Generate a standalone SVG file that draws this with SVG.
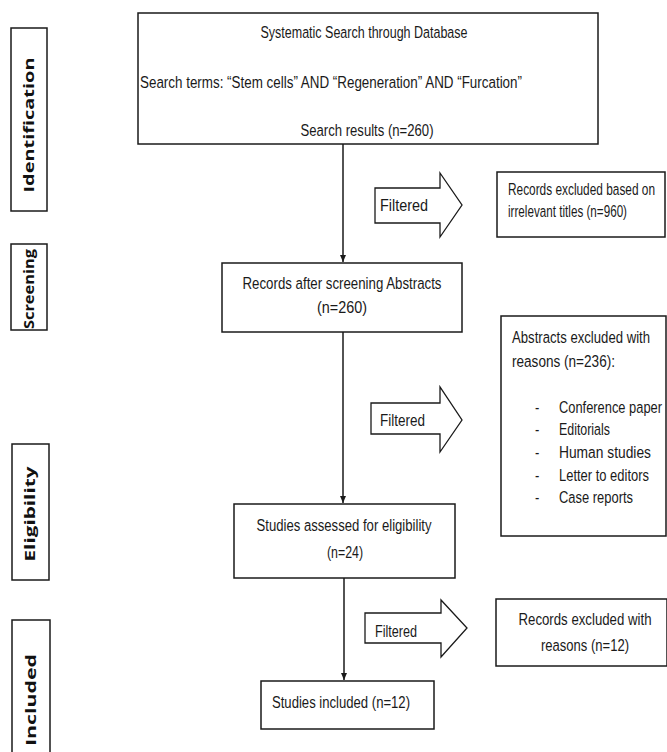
<svg xmlns="http://www.w3.org/2000/svg" width="667" height="752" viewBox="0 0 667 752">
<style>
.box{fill:#fff;stroke:#1a1a1a;stroke-width:1.5}
.phase{fill:#fff;stroke:#1a1a1a;stroke-width:1.5}
.ph{font-family:"Open Sans","DejaVu Sans",sans-serif;font-weight:700;font-size:15px;fill:#111;text-anchor:middle}
.t{font-family:"Liberation Sans",Arial,sans-serif;font-size:17px;fill:#1a1a1a}
.c{text-anchor:middle}
.conn{stroke:#1a1a1a;stroke-width:1.5;fill:none}
.farrow{fill:#fff;stroke:#1a1a1a;stroke-width:1.3;stroke-linejoin:miter}
</style>
<defs>
<marker id="ah" markerWidth="8" markerHeight="8" refX="7" refY="4" orient="auto" markerUnits="userSpaceOnUse">
<path d="M0,1 L7,4 L0,7 Z" fill="#1a1a1a"/>
</marker>
</defs>
<rect width="667" height="752" fill="#fff"/>

<g id="phase-identification">
<rect class="phase" x="11" y="28" width="36" height="183"/>
<text class="ph" transform="translate(34,125) rotate(-90)" textLength="135" lengthAdjust="spacingAndGlyphs">Identification</text>
</g>
<g id="phase-screening">
<rect class="phase" x="11" y="244" width="36" height="86"/>
<text class="ph" transform="translate(34,289) rotate(-90)" textLength="80" lengthAdjust="spacingAndGlyphs">Screening</text>
</g>
<g id="phase-eligibility">
<rect class="phase" x="12" y="444" width="37" height="136"/>
<text class="ph" transform="translate(35,514) rotate(-90)" textLength="95" lengthAdjust="spacingAndGlyphs">Eligibility</text>
</g>
<g id="phase-included">
<rect class="phase" x="12" y="620" width="38" height="140"/>
<text class="ph" transform="translate(36,700) rotate(-90)" textLength="92" lengthAdjust="spacingAndGlyphs">Included</text>
</g>

<g id="connectors">
<line class="conn" x1="343" y1="144" x2="343" y2="262" marker-end="url(#ah)"/>
<line class="conn" x1="343" y1="332" x2="343" y2="503" marker-end="url(#ah)"/>
<line class="conn" x1="344" y1="578" x2="344" y2="680" marker-end="url(#ah)"/>
</g>

<g id="search">
<rect class="box" x="138" y="13" width="460" height="131"/>
<text class="t c" transform="translate(364,38) scale(0.76,1)" textLength="272.4" lengthAdjust="spacingAndGlyphs">Systematic Search through Database</text>
<text class="t" transform="translate(140,88) scale(0.76,1)" textLength="502.6" lengthAdjust="spacingAndGlyphs">Search terms: “Stem cells” AND “Regeneration”  AND “Furcation”</text>
<text class="t c" transform="translate(367,136) scale(0.76,1)" textLength="175" lengthAdjust="spacingAndGlyphs">Search results (n=260)</text>
</g>

<g id="filter1">
<polygon class="farrow" points="375,188 440,188 440,173 462,205 440,237 440,223 375,223"/>
<text class="t" transform="translate(380,211) scale(0.76,1)" textLength="63.2" lengthAdjust="spacingAndGlyphs">Filtered</text>
</g>
<g id="excluded-titles">
<rect class="box" x="497" y="172" width="168" height="65"/>
<text class="t" transform="translate(508,195) scale(0.76,1)" textLength="193.4" lengthAdjust="spacingAndGlyphs">Records excluded based on</text>
<text class="t" transform="translate(508,217) scale(0.76,1)" textLength="156.6" lengthAdjust="spacingAndGlyphs">irrelevant titles (n=960)</text>
</g>

<g id="screening-abstracts">
<rect class="box" x="222" y="263" width="240" height="69"/>
<text class="t c" transform="translate(342,289) scale(0.76,1)" textLength="261.8" lengthAdjust="spacingAndGlyphs">Records after screening Abstracts</text>
<text class="t c" transform="translate(342,313) scale(0.76,1)" textLength="65.8" lengthAdjust="spacingAndGlyphs">(n=260)</text>
</g>

<g id="filter2">
<polygon class="farrow" points="371,403 440,403 440,387 462,420 440,452 440,434 371,434"/>
<text class="t" transform="translate(380,426) scale(0.76,1)" textLength="59.2" lengthAdjust="spacingAndGlyphs">Filtered</text>
</g>
<g id="excluded-abstracts">
<rect class="box" x="501" y="316" width="165" height="220"/>
<text class="t" transform="translate(512,343) scale(0.76,1)" textLength="181.6" lengthAdjust="spacingAndGlyphs">Abstracts excluded with</text>
<text class="t" transform="translate(512,367) scale(0.76,1)" textLength="135.5" lengthAdjust="spacingAndGlyphs">reasons (n=236):</text>
<text class="t" transform="translate(535,413) scale(0.76,1)">-</text>
<text class="t" transform="translate(559,413) scale(0.76,1)" textLength="135.5" lengthAdjust="spacingAndGlyphs">Conference  paper</text>
<text class="t" transform="translate(535,435) scale(0.76,1)">-</text>
<text class="t" transform="translate(559,435) scale(0.76,1)" textLength="67" lengthAdjust="spacingAndGlyphs">Editorials</text>
<text class="t" transform="translate(535,458) scale(0.76,1)">-</text>
<text class="t" transform="translate(559,458) scale(0.76,1)" textLength="121" lengthAdjust="spacingAndGlyphs">Human studies</text>
<text class="t" transform="translate(535,481) scale(0.76,1)">-</text>
<text class="t" transform="translate(559,481) scale(0.76,1)" textLength="118.4" lengthAdjust="spacingAndGlyphs">Letter to editors</text>
<text class="t" transform="translate(535,503) scale(0.76,1)">-</text>
<text class="t" transform="translate(559,503) scale(0.76,1)" textLength="97.4" lengthAdjust="spacingAndGlyphs">Case reports</text>
</g>

<g id="eligibility">
<rect class="box" x="234" y="504" width="221" height="74"/>
<text class="t c" transform="translate(344,531) scale(0.76,1)" textLength="230.3" lengthAdjust="spacingAndGlyphs">Studies assessed for eligibility</text>
<text class="t c" transform="translate(345,558) scale(0.76,1)" textLength="47.4" lengthAdjust="spacingAndGlyphs">(n=24)</text>
</g>

<g id="filter3">
<polygon class="farrow" points="365,613 441,613 441,600 467,628 441,657 441,643 365,643"/>
<text class="t" transform="translate(375,637) scale(0.76,1)" textLength="55.3" lengthAdjust="spacingAndGlyphs">Filtered</text>
</g>
<g id="excluded-final">
<rect class="box" x="496" y="599" width="171" height="67"/>
<text class="t c" transform="translate(585,625) scale(0.76,1)" textLength="175" lengthAdjust="spacingAndGlyphs">Records excluded with</text>
<text class="t c" transform="translate(585,651) scale(0.76,1)" textLength="115.8" lengthAdjust="spacingAndGlyphs">reasons (n=12)</text>
</g>

<g id="included">
<rect class="box" x="261" y="681" width="173" height="48"/>
<text class="t c" transform="translate(341,708) scale(0.76,1)" textLength="181.6" lengthAdjust="spacingAndGlyphs">Studies included (n=12)</text>
</g>
</svg>
